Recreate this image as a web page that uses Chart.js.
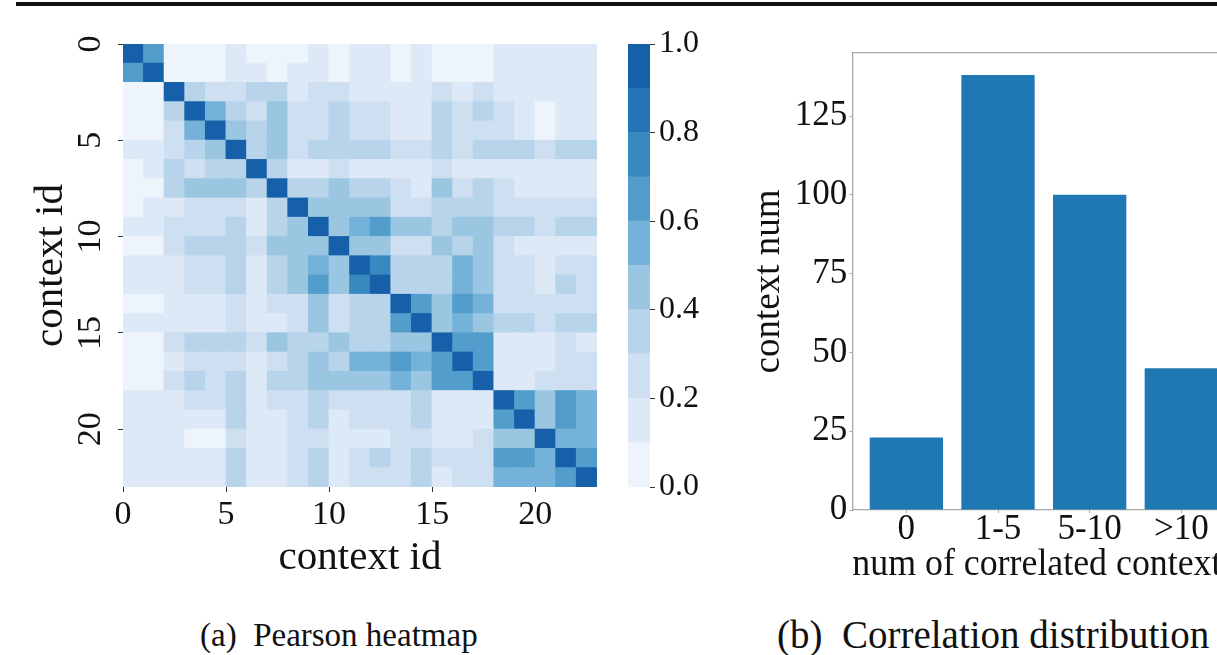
<!DOCTYPE html>
<html>
<head>
<meta charset="utf-8">
<script src="https://cdn.jsdelivr.net/npm/chart.js@4.4.1/dist/chart.umd.min.js"></script>
<style>
html,body{margin:0;padding:0;background:#fff;overflow:hidden;width:1217px;height:655px;}
canvas{position:absolute;}
#rule{position:absolute;left:16px;top:2px;width:1201px;height:4px;background:#111;}
.cap{position:absolute;font-family:'Liberation Serif','Times New Roman',serif;color:#111;white-space:pre;}
</style>
</head>
<body>
<div id="rule"></div>
<canvas id="heat" width="625" height="600" style="left:0;top:0;width:625px;height:600px"></canvas>
<canvas id="cbar" width="130" height="600" style="left:600px;top:0;width:130px;height:600px"></canvas>
<canvas id="bars" width="520" height="600" style="left:740px;top:0;width:520px;height:600px"></canvas>
<div class="cap" style="left:200px;top:619px;font-size:33px;line-height:33px">(a)  Pearson heatmap</div>
<div class="cap" style="left:777px;top:615px;font-size:39px;line-height:39px">(b)  Correlation distribution</div>
<script>
// ---------- data ----------
const heatTicks = [0, 5, 10, 15, 20];
const pearson = [
 [1.0,0.65,0.05,0.03,0.05,0.10,0.08,0.05,0.08,0.10,0.05,0.10,0.12,0.07,0.12,0.02,0.05,0.03,0.15,0.18,0.15,0.15,0.17],
 [0.65,1.0,0.05,0.05,0.05,0.10,0.10,0.07,0.10,0.10,0.05,0.10,0.12,0.08,0.12,0.05,0.07,0.05,0.12,0.18,0.15,0.18,0.17],
 [0.05,0.05,1.0,0.30,0.28,0.27,0.32,0.35,0.18,0.20,0.25,0.18,0.15,0.15,0.10,0.25,0.15,0.20,0.17,0.12,0.12,0.12,0.10],
 [0.03,0.05,0.30,1.0,0.55,0.38,0.20,0.45,0.22,0.22,0.35,0.22,0.20,0.17,0.15,0.30,0.25,0.30,0.20,0.10,0.08,0.15,0.13],
 [0.05,0.05,0.28,0.55,1.0,0.45,0.30,0.47,0.20,0.20,0.32,0.25,0.20,0.17,0.12,0.30,0.20,0.25,0.20,0.12,0.08,0.15,0.15],
 [0.10,0.10,0.27,0.38,0.45,1.0,0.30,0.45,0.22,0.35,0.30,0.30,0.33,0.27,0.27,0.30,0.28,0.32,0.30,0.30,0.25,0.35,0.30],
 [0.08,0.10,0.32,0.20,0.30,0.30,1.0,0.38,0.15,0.17,0.22,0.15,0.15,0.12,0.12,0.20,0.15,0.15,0.17,0.15,0.15,0.15,0.15],
 [0.05,0.07,0.35,0.45,0.47,0.45,0.38,1.0,0.30,0.30,0.45,0.38,0.30,0.20,0.15,0.40,0.27,0.38,0.22,0.15,0.15,0.17,0.17],
 [0.08,0.10,0.18,0.22,0.20,0.22,0.15,0.30,1.0,0.45,0.42,0.40,0.40,0.25,0.25,0.32,0.32,0.32,0.25,0.25,0.20,0.20,0.20],
 [0.10,0.10,0.20,0.22,0.20,0.35,0.17,0.30,0.45,1.0,0.45,0.55,0.65,0.40,0.40,0.38,0.45,0.45,0.38,0.35,0.28,0.38,0.30],
 [0.05,0.05,0.25,0.35,0.32,0.30,0.22,0.45,0.42,0.45,1.0,0.45,0.45,0.25,0.20,0.45,0.33,0.40,0.22,0.15,0.15,0.17,0.15],
 [0.10,0.10,0.18,0.22,0.25,0.30,0.15,0.38,0.40,0.55,0.45,1.0,0.70,0.38,0.35,0.38,0.50,0.42,0.20,0.20,0.15,0.27,0.25],
 [0.12,0.12,0.15,0.20,0.20,0.33,0.15,0.30,0.40,0.65,0.45,0.70,1.0,0.35,0.33,0.35,0.50,0.42,0.22,0.25,0.15,0.30,0.28],
 [0.07,0.08,0.15,0.17,0.17,0.27,0.12,0.20,0.25,0.40,0.25,0.38,0.35,1.0,0.60,0.48,0.60,0.55,0.25,0.27,0.22,0.27,0.20],
 [0.12,0.12,0.10,0.15,0.12,0.27,0.12,0.15,0.25,0.40,0.20,0.35,0.33,0.60,1.0,0.40,0.55,0.42,0.30,0.38,0.28,0.38,0.30],
 [0.02,0.05,0.25,0.30,0.30,0.30,0.20,0.40,0.32,0.38,0.45,0.38,0.35,0.48,0.40,1.0,0.60,0.62,0.15,0.12,0.15,0.20,0.15],
 [0.05,0.07,0.15,0.25,0.20,0.28,0.15,0.27,0.32,0.45,0.33,0.50,0.50,0.60,0.55,0.60,1.0,0.62,0.15,0.18,0.17,0.25,0.20],
 [0.03,0.05,0.20,0.30,0.25,0.32,0.15,0.38,0.32,0.45,0.40,0.42,0.42,0.55,0.42,0.62,0.62,1.0,0.15,0.18,0.20,0.25,0.20],
 [0.15,0.12,0.17,0.20,0.20,0.30,0.17,0.22,0.25,0.38,0.22,0.20,0.22,0.25,0.30,0.15,0.15,0.15,1.0,0.62,0.42,0.60,0.58],
 [0.18,0.18,0.12,0.10,0.12,0.30,0.15,0.15,0.25,0.35,0.15,0.20,0.25,0.27,0.38,0.12,0.18,0.18,0.62,1.0,0.45,0.62,0.55],
 [0.15,0.15,0.12,0.08,0.08,0.25,0.15,0.15,0.20,0.28,0.15,0.15,0.15,0.22,0.28,0.15,0.17,0.20,0.42,0.45,1.0,0.55,0.50],
 [0.15,0.18,0.12,0.15,0.15,0.35,0.15,0.17,0.20,0.38,0.17,0.27,0.30,0.27,0.38,0.20,0.25,0.25,0.60,0.62,0.55,1.0,0.65],
 [0.17,0.17,0.10,0.13,0.15,0.30,0.15,0.17,0.20,0.30,0.15,0.25,0.28,0.20,0.30,0.15,0.20,0.20,0.58,0.55,0.50,0.65,1.0]
];
const colorbarBounds = [0.0,0.1,0.2,0.3,0.4,0.5,0.6,0.7,0.8,0.9,1.0];
const colorbarTicks = [0.0, 0.2, 0.4, 0.6, 0.8, 1.0];
const barCategories = ['0', '1-5', '5-10', '>10'];
const barCounts = [23, 138, 100, 45];
const barTicks = [0, 25, 50, 75, 100, 125];

// ---------- style ----------
const SERIF = "'Liberation Serif','Times New Roman',serif";
const BLUES = ['#edf4fc','#dde9f6','#cddff1','#b7d4ea','#9ac6e1','#74b2d9','#529dcc','#3989c1','#2474b6','#1660a9'];
function colorFor(v){ return BLUES[Math.min(BLUES.length-1, Math.floor(v*10 + 1e-9))]; }
const baseOpts = {responsive:false, animation:false, events:[], plugins:{legend:{display:false}, tooltip:{enabled:false}}};

// ---------- heatmap ----------
const cells = [], cellColors = [];
pearson.forEach((row, i) => row.forEach((v, j) => {
  cells.push({x: j + 0.5, y: [i, i + 1]});
  cellColors.push(colorFor(v));
}));
new Chart(document.getElementById('heat'), {
  type: 'bar',
  data: {datasets: [{data: cells, backgroundColor: cellColors, borderWidth: 0, barPercentage: 1, categoryPercentage: 1, grouped: false, inflateAmount: 0.5}]},
  options: Object.assign({}, baseOpts, {
    layout: {padding: {left: 0, top: 44, right: 28, bottom: 0}},
    scales: {
      x: {type: 'linear', position: 'bottom', min: 0, max: pearson.length, offset: false,
          afterBuildTicks: s => { s.ticks = heatTicks.map(v => ({value: v})); },
          afterFit: s => { s.height = 113; },
          ticks: {font: {family: SERIF, size: 34}, color: '#111', padding: 3, maxRotation: 0, autoSkip: false, callback: v => String(v)},
          grid: {display: true, offset: false, drawOnChartArea: false, drawTicks: true, tickLength: 5, color: '#333', lineWidth: 1},
          border: {display: false},
          title: {display: true, text: 'context id', font: {family: SERIF, size: 41}, color: '#111', padding: {top: 0, bottom: 17}}},
      y: {type: 'linear', position: 'left', reverse: true, min: 0, max: pearson.length, offset: false,
          afterBuildTicks: s => { s.ticks = heatTicks.map(v => ({value: v})); },
          afterFit: s => { s.width = 123; },
          ticks: {font: {family: SERIF, size: 34}, color: '#111', padding: 10, minRotation: 90, maxRotation: 90, crossAlign: 'center', autoSkip: false, callback: v => String(v)},
          grid: {display: true, offset: false, drawOnChartArea: false, drawTicks: true, tickLength: 5, color: '#333', lineWidth: 1},
          border: {display: false},
          title: {display: true, text: 'context id', font: {family: SERIF, size: 41}, color: '#111', padding: {top: 27, bottom: 0}}}
    }
  })
});

// ---------- colorbar ----------
new Chart(document.getElementById('cbar'), {
  type: 'bar',
  data: {labels: [''], datasets: BLUES.map((c, k) => ({data: [[colorbarBounds[k], colorbarBounds[k + 1]]], backgroundColor: c, borderWidth: 0, barPercentage: 1, categoryPercentage: 1, grouped: false, inflateAmount: 0.5}))},
  options: Object.assign({}, baseOpts, {
    layout: {padding: {left: 28, top: 44, right: 0, bottom: 113}},
    scales: {
      x: {display: false},
      y: {position: 'right', min: 0, max: 1,
          afterBuildTicks: s => { s.ticks = colorbarTicks.map(v => ({value: v})); },
          afterFit: s => { s.width = 80; },
          ticks: {font: {family: SERIF, size: 32}, color: '#111', padding: 4, autoSkip: false, callback: v => Number(v).toFixed(1)},
          grid: {display: true, drawOnChartArea: false, drawTicks: true, tickLength: 5, color: '#333', lineWidth: 1},
          border: {display: false}}
    }
  })
});

// ---------- bar chart ----------
const SPINE = '#a8a8a8';
new Chart(document.getElementById('bars'), {
  type: 'bar',
  data: {datasets: [{data: barCounts.map((v, i) => ({x: i, y: v})), backgroundColor: '#1f77b4', borderWidth: 0, barPercentage: 0.8, categoryPercentage: 1}]},
  options: Object.assign({}, baseOpts, {
    layout: {padding: {left: 0, top: 53, right: 24.6, bottom: 0}},
    scales: {
      x: {type: 'linear', position: 'bottom', min: -0.59, max: 3.59, offset: false,
          afterBuildTicks: s => { s.ticks = barCategories.map((c, i) => ({value: i})); },
          afterFit: s => { s.height = 90; },
          ticks: {font: {family: SERIF, size: 35}, color: '#111', padding: -4, maxRotation: 0, autoSkip: false, callback: v => barCategories[v]},
          grid: {display: true, offset: false, drawOnChartArea: false, drawTicks: true, tickLength: 3, color: SPINE, lineWidth: 1},
          border: {display: true, color: SPINE, width: 1.3},
          title: {display: true, text: 'num of correlated contexts', font: {family: SERIF, size: 37}, color: '#111', padding: {top: 0, bottom: 13}}},
      xTop: {type: 'linear', axis: 'x', position: 'top', min: -0.59, max: 3.59, offset: false,
          afterFit: s => { s.height = 0; },
          ticks: {display: false},
          grid: {display: false},
          border: {display: true, color: SPINE, width: 1.3}},
      y: {type: 'linear', position: 'left', min: 0, max: 145,
          afterBuildTicks: s => { s.ticks = barTicks.map(v => ({value: v})); },
          afterFit: s => { s.width = 112.3; },
          ticks: {font: {family: SERIF, size: 35}, color: '#111', padding: 2, autoSkip: false, callback: v => String(v)},
          grid: {display: true, drawOnChartArea: false, drawTicks: true, tickLength: 3, color: SPINE, lineWidth: 1},
          border: {display: true, color: SPINE, width: 1.3},
          title: {display: true, text: 'context num', font: {family: SERIF, size: 37}, color: '#111', padding: {top: 7, bottom: 0}}}
    }
  })
});
</script>
</body>
</html>
